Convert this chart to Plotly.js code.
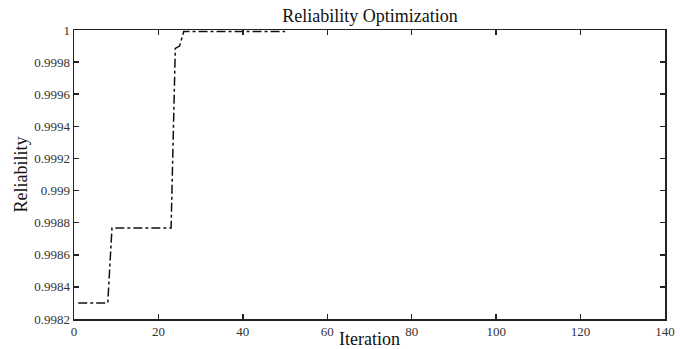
<!DOCTYPE html>
<html>
<head>
<meta charset="utf-8">
<script src="https://cdn.plot.ly/plotly-3.0.1.min.js"></script>
<style>html,body{margin:0;padding:0;background:#fff;}#chart{width:680px;height:349px;}</style>
</head>
<body>
<div id="chart"></div>
<script>
const iterations = [1,2,3,4,5,6,7,8,9,10,11,12,13,14,15,16,17,18,19,20,21,22,23,24,25,26,27,28,29,30,31,32,33,34,35,36,37,38,39,40,41,42,43,44,45,46,47,48,49,50];
const reliability = [
  0.99830,0.99830,0.99830,0.99830,0.99830,0.99830,0.99830,0.99830,
  0.998767,0.998767,0.998767,0.998767,0.998767,0.998767,0.998767,0.998767,0.998767,0.998767,0.998767,0.998767,0.998767,0.998767,0.998767,
  0.999885,0.99990,
  0.99999,0.99999,0.99999,0.99999,0.99999,0.99999,0.99999,0.99999,0.99999,0.99999,0.99999,0.99999,0.99999,0.99999,0.99999,
  0.99999,0.99999,0.99999,0.99999,0.99999,0.99999,0.99999,0.99999,0.99999,0.99999
];
const yTickVals = [0.9982,0.9984,0.9986,0.9988,0.999,0.9992,0.9994,0.9996,0.9998,1];
const yTickText = ['0.9982','0.9984','0.9986','0.9988','0.999','0.9992','0.9994','0.9996','0.9998','1'];
const xTickVals = [0,20,40,60,80,100,120,140];

const font = 'Liberation Serif';
Plotly.newPlot('chart', [{
  x: iterations, y: reliability, type: 'scatter', mode: 'lines',
  line: {color: '#111', width: 1.5, dash: 'dashdot'}, hoverinfo: 'skip'
}], {
  width: 680, height: 349,
  margin: {l: 74, r: 15, t: 30, b: 30},
  paper_bgcolor: '#fff', plot_bgcolor: '#fff',
  showlegend: false,
  font: {family: font, color: '#111'},
  title: {text: 'Reliability Optimization', font: {family: font, size: 18, color: '#111'}, x: 0.544, xanchor: 'center', y: 0.955, yanchor: 'middle'},
  xaxis: {
    range: [0, 140], tickvals: xTickVals, ticks: 'inside', ticklen: 5, tickwidth: 1.5, tickcolor: '#222',
    showline: true, linecolor: '#222', linewidth: 1.5, mirror: 'ticks', showgrid: false, zeroline: false,
    tickfont: {family: font, size: 13, color: '#333'},
    title: {text: 'Iteration', font: {family: font, size: 18, color: '#111'}, standoff: 0},
    automargin: false
  },
  yaxis: {
    range: [0.9982, 1], tickvals: yTickVals, ticktext: yTickText, ticks: 'inside', ticklen: 5, tickwidth: 1.5, tickcolor: '#222',
    showline: true, linecolor: '#222', linewidth: 1.5, mirror: 'ticks', showgrid: false, zeroline: false,
    tickfont: {family: font, size: 13, color: '#333'},
    title: {text: 'Reliability', font: {family: font, size: 18, color: '#111'}, standoff: 2},
    automargin: false
  }
}, {staticPlot: true, displayModeBar: false});
</script>
</body>
</html>
